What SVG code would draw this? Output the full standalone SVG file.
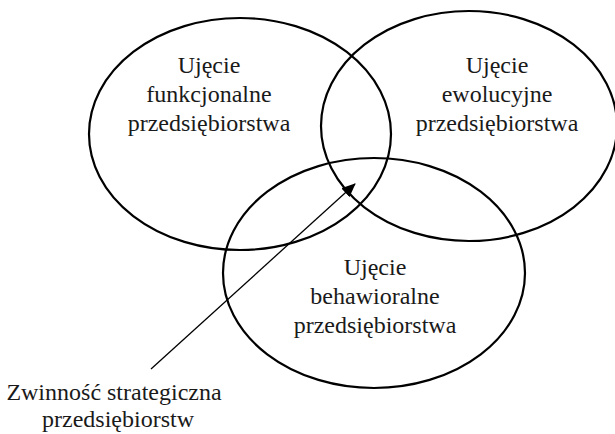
<svg xmlns="http://www.w3.org/2000/svg" width="615" height="434" viewBox="0 0 615 434">
  <style>
    .ell { fill: none; stroke: #000; stroke-width: 2.2; }
    .lbl { font-family: 'Liberation Serif', 'DejaVu Serif', 'Times New Roman', serif; font-size: 24px; fill: #1a1a1a; text-anchor: middle; }
    .conn { stroke: #000; stroke-width: 1.3; fill: none; }
  </style>
  <defs>
    <marker id="arrow" markerWidth="14" markerHeight="12" refX="13" refY="6" orient="auto" markerUnits="userSpaceOnUse" viewBox="0 0 14 12">
      <path d="M0,0 L14,6 L0,12 Z" fill="#000"/>
    </marker>
  </defs>
  <rect width="615" height="434" fill="#fff"/>
  <g id="node-funkcjonalne">
    <ellipse class="ell" cx="240" cy="134" rx="151" ry="116"/>
    <text class="lbl" x="209" y="73">Ujęcie</text>
    <text class="lbl" x="209" y="102">funkcjonalne</text>
    <text class="lbl" x="209" y="131">przedsiębiorstwa</text>
  </g>
  <g id="node-ewolucyjne">
    <ellipse class="ell" cx="469" cy="126" rx="148" ry="115"/>
    <text class="lbl" x="497" y="73">Ujęcie</text>
    <text class="lbl" x="497" y="102">ewolucyjne</text>
    <text class="lbl" x="497" y="131">przedsiębiorstwa</text>
  </g>
  <g id="node-behawioralne">
    <ellipse class="ell" cx="374" cy="273" rx="151" ry="115"/>
    <text class="lbl" x="375" y="275">Ujęcie</text>
    <text class="lbl" x="375" y="304">behawioralne</text>
    <text class="lbl" x="375" y="333">przedsiębiorstwa</text>
  </g>
  <g id="node-zwinnosc">
    <text class="lbl" x="114" y="400">Zwinność strategiczna</text>
    <text class="lbl" x="118" y="427">przedsiębiorstw</text>
  </g>
  <g id="connectors">
    <line class="conn" x1="151" y1="369" x2="355" y2="184" marker-end="url(#arrow)"/>
  </g>
</svg>
